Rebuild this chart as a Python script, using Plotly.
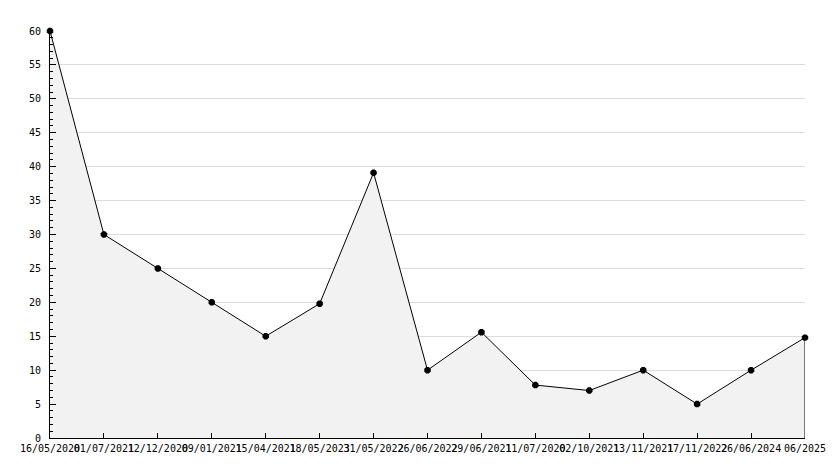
import plotly.graph_objects as go

dates = ["16/05/2020", "01/07/2021", "12/12/2020", "09/01/2021", "15/04/2021",
         "18/05/2023", "31/05/2022", "26/06/2022", "29/06/2021", "11/07/2020",
         "02/10/2021", "13/11/2021", "17/11/2022", "26/06/2024", "06/2025"]
values = [60, 30, 25, 20, 15, 19.8, 39.1, 10, 15.6, 7.8, 7.0, 10, 5, 10, 14.8]
y_ticks = list(range(0, 61, 5))

FONT = "DejaVu Sans Mono"

fig = go.Figure()
fig.add_trace(go.Scatter(
    x=dates, y=values, mode="lines+markers",
    fill="tozeroy", fillcolor="#f2f2f2",
    line=dict(color="black", width=1),
    marker=dict(symbol="octagon", size=7, color="black"),
    hoverinfo="skip", showlegend=False, cliponaxis=False,
))
# closing right edge of the area
fig.add_trace(go.Scatter(
    x=[dates[-1], dates[-1]], y=[values[-1], 0], mode="lines",
    line=dict(color="black", width=1), hoverinfo="skip", showlegend=False,
    cliponaxis=False,
))

# the page body adds an 8px margin, so the figure is 8px smaller each way
fig.update_layout(
    width=826, height=460,
    margin=dict(l=42, r=29, t=23, b=30),
    paper_bgcolor="white", plot_bgcolor="white",
    font=dict(family=FONT, size=10, color="black"),
    xaxis=dict(
        type="category", range=[0, len(dates) - 1], automargin=False,
        tickmode="array", tickvals=dates, ticktext=dates, tickangle=0,
        ticks="inside", ticklen=5, tickcolor="black",
        showline=True, linecolor="black", linewidth=1,
        showgrid=False, zeroline=False, ticklabelstandoff=1,
        tickfont=dict(family=FONT, size=10, color="black"),
    ),
    yaxis=dict(
        range=[0, 60], tickmode="array", tickvals=y_ticks, automargin=False,
        ticks="inside", ticklen=6, tickcolor="black",
        minor=dict(dtick=1, ticks="inside", ticklen=3, tickcolor="black", showgrid=False),
        showline=True, linecolor="black", linewidth=1,
        showgrid=True, gridcolor="#dcdcdc", gridwidth=1,
        zeroline=False, ticklabelstandoff=6,
        tickfont=dict(family=FONT, size=10, color="black"),
    ),
)

fig.write_html("out.html")
